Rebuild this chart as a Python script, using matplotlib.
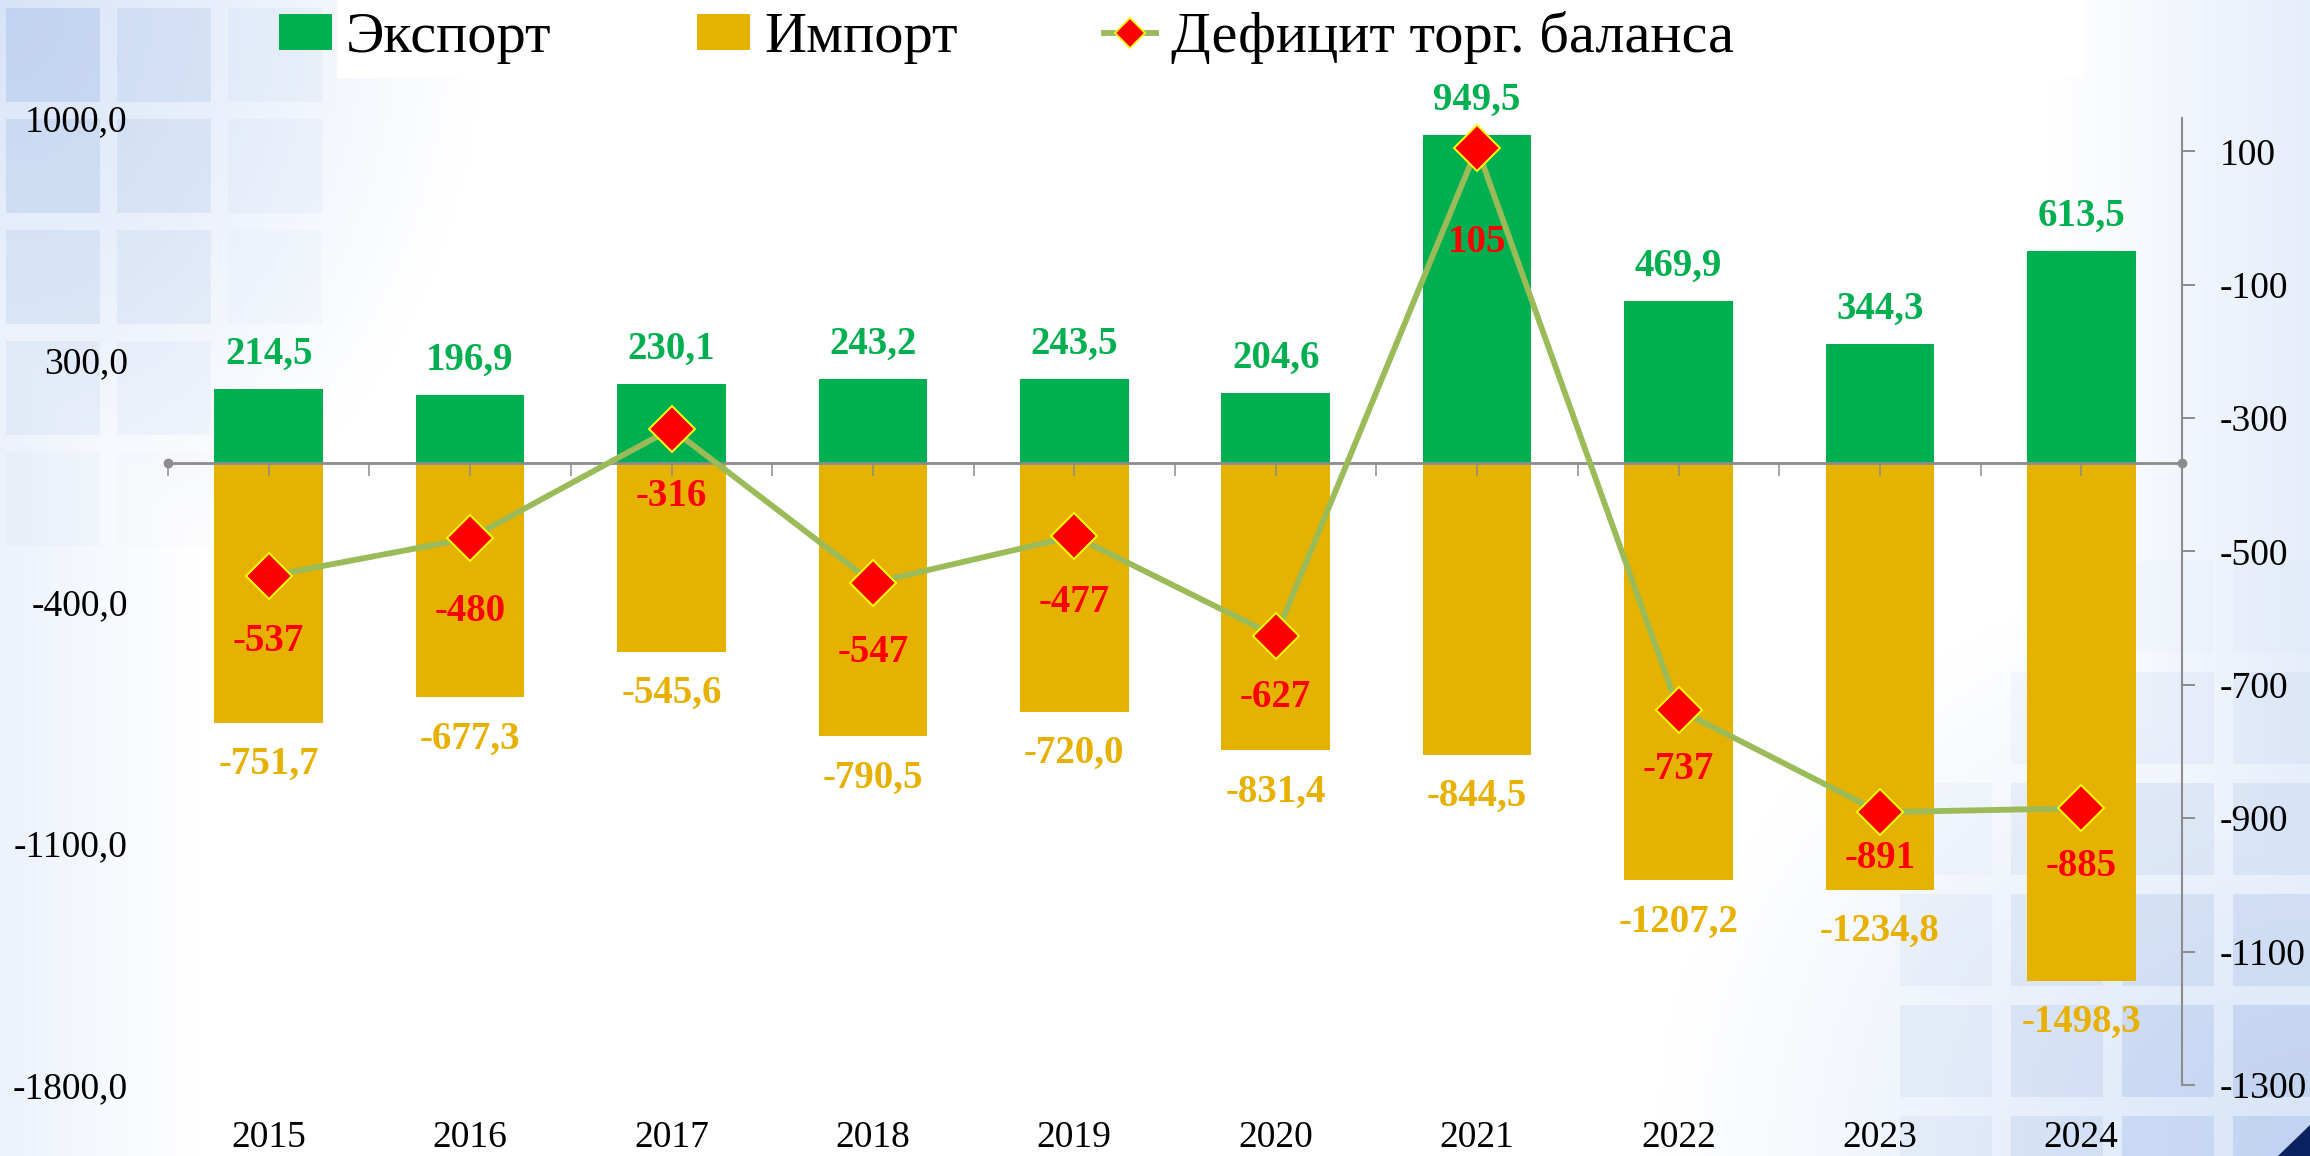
import numpy as np
import matplotlib
matplotlib.use("Agg")
import matplotlib.pyplot as plt
from matplotlib.patches import Rectangle, Polygon
from matplotlib.lines import Line2D

plt.rcParams['font.family'] = ['Liberation Serif', 'DejaVu Serif']
plt.rcParams['axes.unicode_minus'] = False

# ---- data ----
years = ['2015', '2016', '2017', '2018', '2019', '2020', '2021', '2022', '2023', '2024']
export = [214.5, 196.9, 230.1, 243.2, 243.5, 204.6, 949.5, 469.9, 344.3, 613.5]
imports = [-751.7, -677.3, -545.6, -790.5, -720.0, -831.4, -844.5, -1207.2, -1234.8, -1498.3]
deficit = [-537, -480, -316, -547, -477, -627, 105, -737, -891, -885]

left_ticks = [-1800, -1100, -400, 300, 1000]
right_ticks = [-1300, -1100, -900, -700, -500, -300, -100, 100]

# ---- style ----
GREEN = '#00B050'
GOLD = '#E6B200'
GOLD_TXT = '#E8B000'
RED = '#FF0000'
OLIVE = '#9BBB59'
GRAY = '#8C8C8C'
W, H = 2310, 1156
# how far (pt) each deficit label sits below its marker
deficit_label_offset = [47, 53, 49, 50, 48, 44, 68, 43, 33, 42]


def comma(v, fmt="{:.1f}"):
    return fmt.format(v).replace('.', ',')


def draw_background(fig):
    bg = fig.add_axes([0, 0, 1, 1], zorder=0)
    bg.set_xlim(0, W)
    bg.set_ylim(H, 0)
    bg.axis('off')

    xs = np.linspace(0, W, 462)
    ys = np.linspace(0, H, 231)
    X, Y = np.meshgrid(xs, ys)
    t_tl = np.clip(1 - np.hypot(X / 480, Y / 600), 0, 1)
    t_br = np.clip(1 - np.hypot((W - X) / 650, (H - Y) / 600), 0, 1)
    t_r = np.clip(1 - (W - X) / 260, 0, 1) * 0.6
    t_l = np.clip(1 - X / 200, 0, 1) * 0.45
    t = np.maximum.reduce([t_tl, t_br, t_r, t_l])
    blue = np.array([0.84, 0.89, 0.97])
    img = 1 - t[..., None] * (1 - blue)
    bg.imshow(img, extent=(0, W, H, 0), aspect='auto', interpolation='bilinear')

    sq = (0.68, 0.77, 0.92)
    for col in range(3):
        for row in range(5):
            x0, y0 = 6 + 111 * col, 8 + 111 * row
            a = 0.5 * max(0.0, 1 - np.hypot(x0 / 300, y0 / 520))
            if a > 0.02:
                bg.add_patch(Rectangle((x0, y0), 94, 94, color=sq, alpha=a, lw=0))
    for col in range(4):
        for row in range(-3, 4):
            x0, y0 = 1900 + 111 * col, 783 + 111 * row
            a = 0.55 * max(0.0, 1 - np.hypot((W - x0 - 94) / 460, (H - y0 - 94) / 560))
            if a > 0.02:
                bg.add_patch(Rectangle((x0, y0), 92, 92, color=sq, alpha=a, lw=0))

    bg.add_patch(Polygon([(2278, H), (W, H), (W, 1125)], color='#0B2160', lw=0))
    # white strip behind the legend text
    bg.add_patch(Rectangle((337, 0), 1746, 78, color='white', lw=0))


fig = plt.figure(figsize=(W / 100, H / 100), dpi=100)
draw_background(fig)

ax = fig.add_axes([168 / W, 1 - 1085 / H, (2182 - 168) / W, (1085 - 118) / H])
ax.set_zorder(1)
ax.patch.set_visible(False)
ax2 = ax.twinx()
ax2.set_zorder(2)
ax2.patch.set_visible(False)

x = np.arange(len(years))
b_exp = ax.bar(x, export, width=0.54, color=GREEN, zorder=1)
b_imp = ax.bar(x, imports, width=0.54, color=GOLD, zorder=1)

ax.set_xlim(-0.5, len(years) - 0.5)
ax.set_ylim(left_ticks[0], left_ticks[-1])
ax.set_yticks(left_ticks)
ax.set_yticklabels([comma(v) for v in left_ticks])
ax.tick_params(axis='y', length=0, pad=29, labelsize=27)

# category axis drawn on the zero line
for s in ['top', 'left', 'right']:
    ax.spines[s].set_visible(False)
ax.spines['bottom'].set_position(('data', 0))
ax.spines['bottom'].set_color(GRAY)
ax.spines['bottom'].set_linewidth(2)
ax.set_xticks(np.arange(-0.5, len(years), 0.5))
ax.tick_params(axis='x', direction='out', length=9, width=1.1, color=GRAY, labelbottom=False)
ax.plot(ax.get_xlim(), [0, 0], 'o', ms=6, color=GRAY, clip_on=False, zorder=3)

for i, yr in enumerate(years):
    ax.annotate(yr, (i, 0), xycoords=('data', 'axes fraction'), xytext=(0, -38),
                textcoords='offset points', ha='center', va='center', fontsize=27)

for i, v in enumerate(export):
    ax.annotate(comma(v), (i, v), xytext=(0, 25), textcoords='offset points',
                ha='center', va='center', fontsize=28, fontweight='bold', color=GREEN)
for i, v in enumerate(imports):
    ax.annotate(comma(v), (i, v), xytext=(0, -30), textcoords='offset points',
                ha='center', va='center', fontsize=28, fontweight='bold', color=GOLD_TXT)

line, = ax2.plot(x, deficit, color=OLIVE, lw=4.2, marker='D', ms=23,
                 mfc=RED, mec='#FFFF00', mew=1.4, zorder=3)
for i, v in enumerate(deficit):
    ax2.annotate(str(v), (i, v), xytext=(0, -deficit_label_offset[i]), textcoords='offset points',
                 ha='center', va='center', fontsize=28, fontweight='bold', color=RED, zorder=4)

ax2.set_ylim(-1300, 150)
ax2.set_yticks(right_ticks)
ax2.set_yticklabels([str(v) for v in right_ticks])
for s in ['top', 'left', 'bottom']:
    ax2.spines[s].set_visible(False)
ax2.spines['right'].set_color(GRAY)
ax2.spines['right'].set_linewidth(1.5)
ax2.tick_params(axis='y', direction='out', length=9.4, width=1.4, color=GRAY, pad=18, labelsize=27)

legend_line = Line2D([], [], color=OLIVE, lw=4.2, marker='D', ms=15, mfc=RED, mec='#FFFF00', mew=1.2)
fig.legend([b_exp, b_imp, legend_line], ['Экспорт', 'Импорт', 'Дефицит торг. баланса'],
           loc='center left', bbox_to_anchor=(279 / W, 1 - 38 / H), ncol=3, frameon=False,
           prop={'family': 'Liberation Serif', 'size': 42}, handlelength=0.9, handleheight=0.57,
           handletextpad=0.25, columnspacing=2.5, borderpad=0, borderaxespad=0)

fig.savefig('out.png', dpi=100)
